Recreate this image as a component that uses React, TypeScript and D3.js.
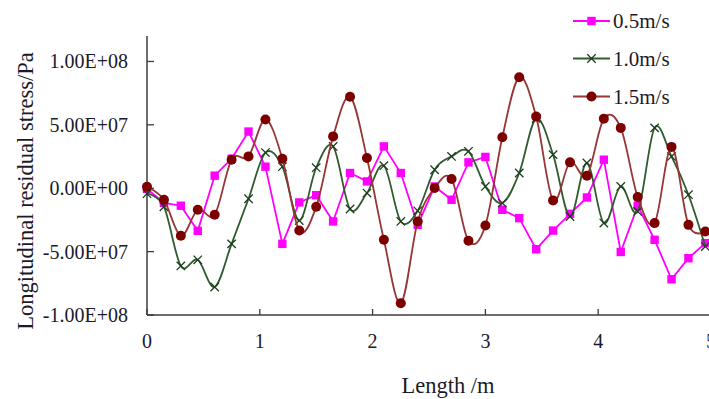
import React, { useEffect, useRef } from 'react';
import * as d3 from 'd3';

// positions along the bar (m)
const lengths = [
  0, 0.15, 0.3, 0.45, 0.6, 0.75, 0.9, 1.05, 1.2, 1.35, 1.5, 1.65, 1.8, 1.95, 2.1, 2.25, 2.4,
  2.55, 2.7, 2.85, 3.0, 3.15, 3.3, 3.45, 3.6, 3.75, 3.9, 4.05, 4.2, 4.35, 4.5, 4.65, 4.8, 4.95
];

// stress values, in units of 1e7 Pa
const speed05 = [
  -0.06, -1.15, -1.38, -3.36, 0.99, 2.33, 4.47, 1.7, -4.39, -1.12, -0.55, -2.62, 1.2, 0.54, 3.3, 1.2, -2.89,
  0.14, -0.91, 2.04, 2.47, -1.7, -2.36, -4.81, -3.34, -2.02, -0.73, 2.25, -5.03, -1.38, -4.07, -7.18, -5.52, -4.33
];
const speed10 = [
  -0.43, -1.46, -6.13, -5.65, -7.79, -4.39, -0.83, 2.81, 1.7, -2.55, 1.62, 3.3, -1.64, -0.38, 1.78, -2.62, -1.78,
  1.46, 2.51, 2.91, 0.14, -1.17, 1.2, 5.5, 2.65, -2.23, 1.99, -2.75, 0.14, -1.83, 4.76, 2.51, -0.51, -4.6
];
const speed15 = [
  0.12, -0.91, -3.75, -1.7, -2.09, 2.25, 2.51, 5.42, 2.33, -3.34, -1.46, 4.09, 7.21, 2.39, -4.07, -9.08, -2.62,
  0.02, 0.73, -4.15, -2.94, 4.02, 8.76, 5.65, -0.96, 2.04, 0.99, 5.49, 4.76, -0.7, -2.75, 3.26, -2.89, -3.42
];

const seriesNames = ['0.5m/s', '1.0m/s', '1.5m/s'];
const yTicks = [-1e8, -5e7, 0, 5e7, 1e8];
const yTickLabels = ['-1.00E+08', '-5.00E+07', '0.00E+00', '5.00E+07', '1.00E+08'];
const xTicks = [0, 1, 2, 3, 4, 5];

const FONT = '"Times New Roman", "Liberation Serif", serif';
const W = 709;
const H = 399;

type Marker = 'square' | 'cross' | 'circle';

const styles: { line: string; marker: string; type: Marker; curve: boolean }[] = [
  { line: '#ff00ff', marker: '#ff00ff', type: 'square', curve: false },
  { line: '#2f5c2f', marker: '#1e3d1e', type: 'cross', curve: true },
  { line: '#963636', marker: '#7d0000', type: 'circle', curve: true }
];

const App: React.FC = () => {
  const svgRef = useRef<SVGSVGElement>(null);

  useEffect(() => {
    if (!svgRef.current) return;
    const svg = d3.select(svgRef.current);
    svg.selectAll('*').remove();

    const x = d3.scaleLinear().domain([0, 5]).range([147, 711]);
    const y = d3.scaleLinear().domain([-1e8, 1.2e8]).range([315, 36.1]);

    const allSeries = [speed05, speed10, speed15];

    // axes
    const axisColor = '#3c3c3c';
    svg.append('line')
      .attr('x1', x(0)).attr('x2', x(0))
      .attr('y1', y(1.2e8)).attr('y2', y(-1e8))
      .attr('stroke', axisColor).attr('stroke-width', 1.5);
    svg.append('line')
      .attr('x1', x(0)).attr('x2', W + 5)
      .attr('y1', y(-1e8)).attr('y2', y(-1e8))
      .attr('stroke', axisColor).attr('stroke-width', 1.5);

    yTicks.forEach((t, i) => {
      svg.append('line')
        .attr('x1', x(0)).attr('x2', x(0) + 7)
        .attr('y1', y(t)).attr('y2', y(t))
        .attr('stroke', axisColor).attr('stroke-width', 1.3);
      svg.append('text')
        .attr('x', 128)
        .attr('y', y(t))
        .attr('dy', '0.35em')
        .attr('text-anchor', 'end')
        .style('font-family', FONT)
        .style('font-size', '20px')
        .style('fill', '#1a1a2a')
        .text(yTickLabels[i]);
    });

    xTicks.forEach(t => {
      svg.append('line')
        .attr('x1', x(t)).attr('x2', x(t))
        .attr('y1', y(-1e8)).attr('y2', y(-1e8) - 6)
        .attr('stroke', axisColor).attr('stroke-width', 1.3);
      svg.append('text')
        .attr('x', x(t))
        .attr('y', 348)
        .attr('text-anchor', 'middle')
        .style('font-family', FONT)
        .style('font-size', '20px')
        .style('fill', '#1a1a2a')
        .text(String(t));
    });

    // axis titles
    svg.append('text')
      .attr('x', 448)
      .attr('y', 393)
      .attr('text-anchor', 'middle')
      .style('font-family', FONT)
      .style('font-size', '22.5px')
      .style('fill', '#1a1a2a')
      .text('Length /m');

    svg.append('text')
      .attr('transform', 'translate(33,191) rotate(-90)')
      .attr('text-anchor', 'middle')
      .style('font-family', FONT)
      .style('font-size', '22.5px')
      .style('fill', '#1a1a2a')
      .text('Longitudinal residual stress/Pa');

    const drawMarker = (
      g: d3.Selection<SVGGElement, unknown, null, undefined>,
      cx: number,
      cy: number,
      type: Marker,
      color: string
    ) => {
      if (type === 'square') {
        g.append('rect')
          .attr('x', cx - 4.2).attr('y', cy - 4.2)
          .attr('width', 8.4).attr('height', 8.4)
          .attr('fill', color);
      } else if (type === 'circle') {
        g.append('circle')
          .attr('cx', cx).attr('cy', cy).attr('r', 5)
          .attr('fill', color);
      } else {
        const s = 4.2;
        g.append('path')
          .attr('d', `M${cx - s},${cy - s}L${cx + s},${cy + s}M${cx - s},${cy + s}L${cx + s},${cy - s}`)
          .attr('stroke', color)
          .attr('stroke-width', 1.3)
          .attr('fill', 'none');
      }
    };

    // series
    allSeries.forEach((vals, si) => {
      const st = styles[si];
      const pts = vals.map((v, i) => [x(lengths[i]), y(v * 1e7)] as [number, number]);
      const line = d3.line()
        .curve(st.curve ? d3.curveCardinal.tension(0) : d3.curveLinear);
      const g = svg.append('g');
      g.append('path')
        .attr('d', line(pts))
        .attr('fill', 'none')
        .attr('stroke', st.line)
        .attr('stroke-width', 1.8);
      pts.forEach(p => drawMarker(g, p[0], p[1], st.type, st.marker));
    });

    // legend
    const legendY = [21, 58.5, 96.5];
    seriesNames.forEach((name, i) => {
      const st = styles[i];
      const g = svg.append('g');
      g.append('line')
        .attr('x1', 573).attr('x2', 610)
        .attr('y1', legendY[i]).attr('y2', legendY[i])
        .attr('stroke', st.line).attr('stroke-width', 1.8);
      drawMarker(g, 591.5, legendY[i], st.type, st.marker);
      g.append('text')
        .attr('x', 613)
        .attr('y', legendY[i] + 7)
        .style('font-family', FONT)
        .style('font-size', '21px')
        .style('fill', '#1a1a2a')
        .text(name);
    });
  }, []);

  return (
    <svg
      ref={svgRef}
      width={W}
      height={H}
      style={{ position: 'absolute', left: 0, top: 0, background: '#fff' }}
    />
  );
};

export default App;
